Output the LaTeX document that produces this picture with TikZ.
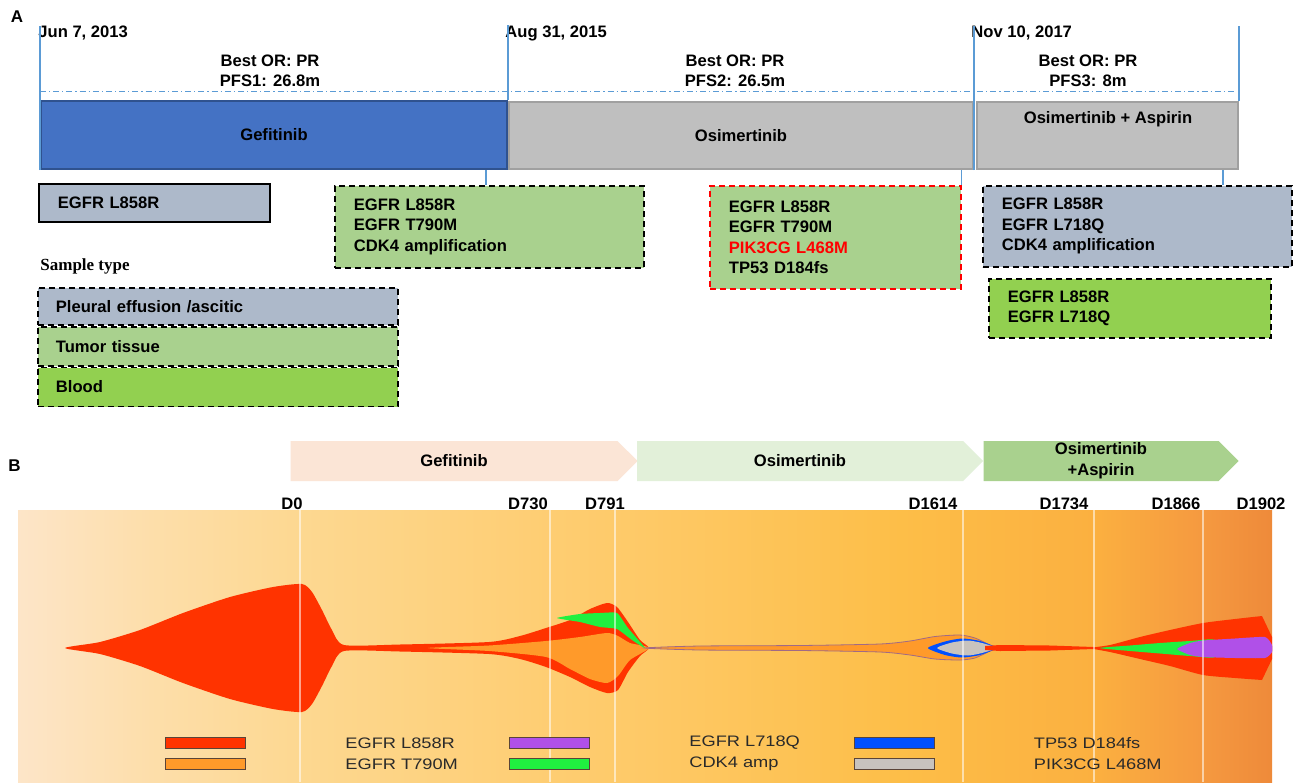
\documentclass[tikz,border=0pt]{standalone}
\usepackage{fontspec}
\setmainfont{Liberation Sans}
\newfontfamily\sampfont{Liberation Serif}
\newfontfamily\legfont[FakeStretch=1.2]{Liberation Sans}
\usepackage{tikz}
\usetikzlibrary{shapes.symbols,positioning}

\definecolor{tlblue}{HTML}{5B9BD5}
\definecolor{gefblue}{HTML}{4472C4}
\definecolor{gefedge}{HTML}{2F528F}
\definecolor{osigray}{HTML}{BFBFBF}
\definecolor{osiedge}{HTML}{A0A0A0}
\definecolor{pleura}{HTML}{ADB9CA}
\definecolor{tissue}{HTML}{A9D18E}
\definecolor{blood}{HTML}{92D050}
\definecolor{txtred}{HTML}{FF0000}
\definecolor{gefarrow}{HTML}{FBE5D6}
\definecolor{osiarrow}{HTML}{E2F0D9}
\definecolor{asparrow}{HTML}{A9D18E}
\definecolor{fred}{HTML}{FF3300}
\definecolor{forange}{HTML}{FF9A2A}
\definecolor{fgreen}{HTML}{20F040}
\definecolor{fpurple}{HTML}{B050E8}
\definecolor{fblue}{HTML}{0050FF}
\definecolor{fgray}{HTML}{C8C3BE}
\definecolor{fedge}{HTML}{A06A86}
\definecolor{swline}{HTML}{5A4438}
\definecolor{legtxt}{HTML}{2A2A2A}
\definecolor{bgA}{RGB}{253,229,200}
\definecolor{bgB}{RGB}{253,222,170}
\definecolor{bgC}{RGB}{253,216,145}
\definecolor{bgD}{RGB}{254,203,108}
\definecolor{bgE}{RGB}{253,190,72}
\definecolor{bgF}{RGB}{251,176,64}
\definecolor{bgG}{RGB}{245,153,64}
\definecolor{bgH}{RGB}{238,138,58}
\pgfdeclarehorizontalshading{fishbg}{100bp}{color(0bp)=(bgA); color(25bp)=(bgA); color(30.3bp)=(bgB); color(36.2bp)=(bgC); color(48.2bp)=(bgD); color(60.2bp)=(bgE); color(67.9bp)=(bgF); color(72.3bp)=(bgG); color(75bp)=(bgH); color(100bp)=(bgH)}

\newcommand\fsz{\fontsize{8.3}{10.25}\selectfont}

\begin{document}
\begin{tikzpicture}[x=0.5pt,y=-0.5pt,
  lab/.style={font=\fsz\bfseries,inner sep=0pt},
  tl/.style={draw=tlblue,line width=0.6pt},
  tldash/.style={draw=tlblue,line width=0.5pt,dash pattern=on 3pt off 1.5pt on 0.6pt off 1.5pt},
  phase/.style={anchor=north west,draw,line width=1pt,inner sep=0pt,font=\fsz\bfseries},
  mut/.style={anchor=north west,draw=black,dash pattern=on 3pt off 2pt,line width=0.9pt,inner xsep=9.5pt,inner ysep=0pt,align=left,font=\fsz\bfseries},
  stage/.style={signal,signal to=east,inner sep=0pt,minimum height=20pt,font=\fsz\bfseries,align=center},
  daylab/.style={font=\fsz\bfseries,inner sep=0pt,anchor=base},
  dayline/.style={draw=white,line width=0.8pt,opacity=0.55},
  sw/.style={draw=swline,line width=0.5pt,minimum width=40pt,minimum height=5.5pt,inner sep=0pt},
  legtext/.style={font=\legfont\fontsize{7.6}{8}\selectfont,text=legtxt,inner sep=0pt,anchor=west}]
\useasboundingbox (0,0) rectangle (1296,782);
\fill[white] (0,0) rectangle (1296,782);
%%
\node (pA) at (17,17) [lab,font=\fontsize{8.5}{10}\selectfont\bfseries] {A};
\node (dJun) at (38,33) [lab,anchor=west] {Jun 7, 2013};
\node (dAug) at (505,33) [lab,anchor=west] {Aug 31, 2015};
\node (dNov) at (971,33) [lab,anchor=west] {Nov 10, 2017};
\node (or1) at (270,71) [lab,align=center] {Best OR: PR\\PFS1: 26.8m};
\node (or2) at (735,71) [lab,align=center] {Best OR: PR\\PFS2: 26.5m};
\node (or3) at (1088,71) [lab,align=center] {Best OR: PR\\PFS3: 8m};
\draw [tldash] (40,91) -- (1236,91);
\node (gef) at (40,100) [phase,fill=gefblue,draw=gefedge,minimum width=233pt,minimum height=34pt] {Gefitinib};
\node (osi) at (508,101) [phase,fill=osigray,draw=osiedge,minimum width=232pt,minimum height=33.5pt] {Osimertinib};
\node (osiasp) at (976,101) [phase,fill=osigray,draw=osiedge,minimum width=130.5pt,minimum height=33.5pt] {};
\node (osiasptxt) at (1108,119) [lab] {Osimertinib + Aspirin};
\draw [tl] (gef.south west) -- (gef.south west |- dJun.north);
\draw [tl] (gef.north east) -- (gef.north east |- dAug.north);
\draw [tl] (osi.south east) -- (osi.south east |- dNov.north);
\draw [tl] (osiasp.north east) -- (osiasp.north east |- dNov.north);
%%
\node (mutA) at (38,183) [mut,solid,fill=pleura,text width=96.5pt,minimum height=19pt] {EGFR L858R};
\node (mutB) at (334,185) [mut,fill=tissue,text width=135.5pt,minimum height=41pt] {EGFR L858R\\EGFR T790M\\CDK4 amplification};
\node (mutC) at (709,185) [mut,draw=txtred,fill=tissue,text width=106.5pt,minimum height=51.5pt] {EGFR L858R\\EGFR T790M\\\textcolor{txtred}{PIK3CG L468M}\\TP53 D184fs};
\node (mutD) at (982,185) [mut,fill=pleura,text width=135.5pt,minimum height=40.5pt] {EGFR L858R\\EGFR L718Q\\CDK4 amplification};
\node (mutE) at (988,278) [mut,fill=blood,text width=122pt,minimum height=29.5pt] {EGFR L858R\\EGFR L718Q};
\draw [tl] ([xshift=-11pt]gef.south east) -- ([xshift=-11pt]gef.south east |- mutB.north);
\draw [tl] (mutC.north east |- osi.south) -- (mutC.north east);
\draw [tl] ([xshift=-8pt]osiasp.south east) -- ([xshift=-8pt]osiasp.south east |- mutD.north);
%%
\node (stype) at (40,266) [inner sep=0pt,anchor=west,font=\sampfont\fontsize{8.5}{10}\selectfont\bfseries] {Sample type};
\node (st1) at (37,287) [mut,inner xsep=9pt,fill=pleura,text width=162pt,minimum height=18.5pt] {Pleural effusion /ascitic};
\node (st2) at (st1.south west) [mut,inner xsep=9pt,fill=tissue,text width=162pt,minimum height=19.5pt] {Tumor tissue};
\node (st3) at (st2.south west) [mut,inner xsep=9pt,fill=blood,text width=162pt,minimum height=19.5pt] {Blood};
%%
\node (pB) at (14.5,466) [lab,font=\fontsize{8.5}{10}\selectfont\bfseries] {B};
\node (sgef) at (454,461) [stage,fill=gefarrow,minimum width=173.5pt] {Gefitinib};
\node (sosi) at (800,461) [stage,fill=osiarrow,minimum width=173pt] {Osimertinib};
\node (sasp) at (1101,461) [stage,fill=asparrow,minimum width=127.5pt,font=\fontsize{8.3}{10.5}\selectfont\bfseries] {Osimertinib\\+Aspirin};
\shade [shading=fishbg] (18,510) rectangle (1272,782);
\foreach \x/\d in {292/0,528/730,605/791,933/1614,1064/1734,1176/1866,1261/1902}
  \node (day\d) at (\x,509) [daylab] {D\d};
%%
\fill [fred] plot [smooth cycle,tension=0.4] coordinates {(65,648) (100,642) (140,630) (183,613) (230,597) (273,587) (302,584) (312,592) (322,610) (332,630) (344,645) (400,644.5) (489,642) (520,636) (546,628) (570,620) (590,609) (607,603) (617,607) (628,622) (640,640) (649,648) (640,656) (628,672) (618,690) (607,693) (590,687) (570,677) (546,667) (520,659) (489,654) (400,651.5) (344,651) (332,666) (322,686) (312,704) (302,712) (273,709) (230,699) (183,683) (140,666) (100,654)};
\fill [forange] plot [smooth cycle,tension=0.4] coordinates {(428,648) (489,645.5) (546,641) (580,637) (607,633) (618,636) (630,643) (649,648) (630,660) (618,676) (607,683) (590,679) (570,669) (546,657) (489,651)};
\fill [fgreen] plot [smooth cycle,tension=0.3] coordinates {(557,618) (580,614) (600,613) (617,613) (628,628) (645,648) (632,640) (617,629) (600,627) (580,622)};
\filldraw [fill=forange,draw=fedge,line width=0.4pt] plot [smooth cycle,tension=0.4] coordinates {(645,648) (700,646) (800,645.5) (880,644) (910,641) (935,636.5) (960,635) (975,638) (990,645) (998,648) (990,651) (975,658) (960,660) (935,659) (910,655) (880,652) (800,650.5) (700,650)};
\fill [fblue] plot [smooth cycle,tension=0.4] coordinates {(928,648) (945,641.5) (962,638.5) (980,641) (996,648) (980,655) (962,657.5) (945,655)};
\fill [fgray] plot [smooth cycle,tension=0.4] coordinates {(937,648) (952,642.5) (968,640.5) (982,643) (996,648) (982,653) (968,655.5) (952,653.5)};
\fill [fred] (985,646) -- (1000,645) -- (1050,645.5) -- (1094,647) -- (1094,649) -- (1050,650.5) -- (1000,651) -- (985,650) -- cycle;
\fill [fred] plot [smooth,tension=0.4] coordinates {(1088,648) (1110,645) (1140,637) (1170,630) (1203,623) (1235,619) (1262,616)} -- (1272,637) -- (1272,659) -- plot [smooth,tension=0.4] coordinates {(1262,680) (1235,678) (1203,675) (1170,666) (1140,659) (1110,652) (1088,648)} -- cycle;
\fill [fgreen] plot [smooth cycle,tension=0.4] coordinates {(1100,648) (1130,645.5) (1160,643) (1190,641) (1215,640) (1215,657) (1190,656) (1160,653.5) (1130,651)};
\fill [fpurple] plot [smooth cycle,tension=0.3] coordinates {(1177,649) (1190,643) (1203,640.5) (1235,638.5) (1265,637) (1272,645) (1272,652) (1265,658) (1235,658) (1203,657) (1190,655)};
\foreach \x in {300,550,615,963,1094,1203}
  \draw [dayline] (\x,510) -- (\x,782);
%%
\node (swA) at (205.5,743) [sw,fill=fred] {};
\node (swB) at (205.5,764) [sw,fill=forange] {};
\node (swC) at (549.5,743) [sw,fill=fpurple] {};
\node (swD) at (549.5,764) [sw,fill=fgreen] {};
\node (swE) at (894,743) [sw,fill=fblue] {};
\node (swF) at (894,764) [sw,fill=fgray] {};
\node (lgA) [legtext,right=49.5pt of swA] {EGFR L858R};
\node (lgB) [legtext,right=49.5pt of swB] {EGFR T790M};
\node (lgC) [legtext,right=49.5pt of swC] {EGFR L718Q};
\node (lgD) [legtext,right=49.5pt of swD] {CDK4 amp};
\node (lgE) [legtext,right=49.5pt of swE] {TP53 D184fs};
\node (lgF) [legtext,right=49.5pt of swF] {PIK3CG L468M};
%
\end{tikzpicture}
\end{document}
